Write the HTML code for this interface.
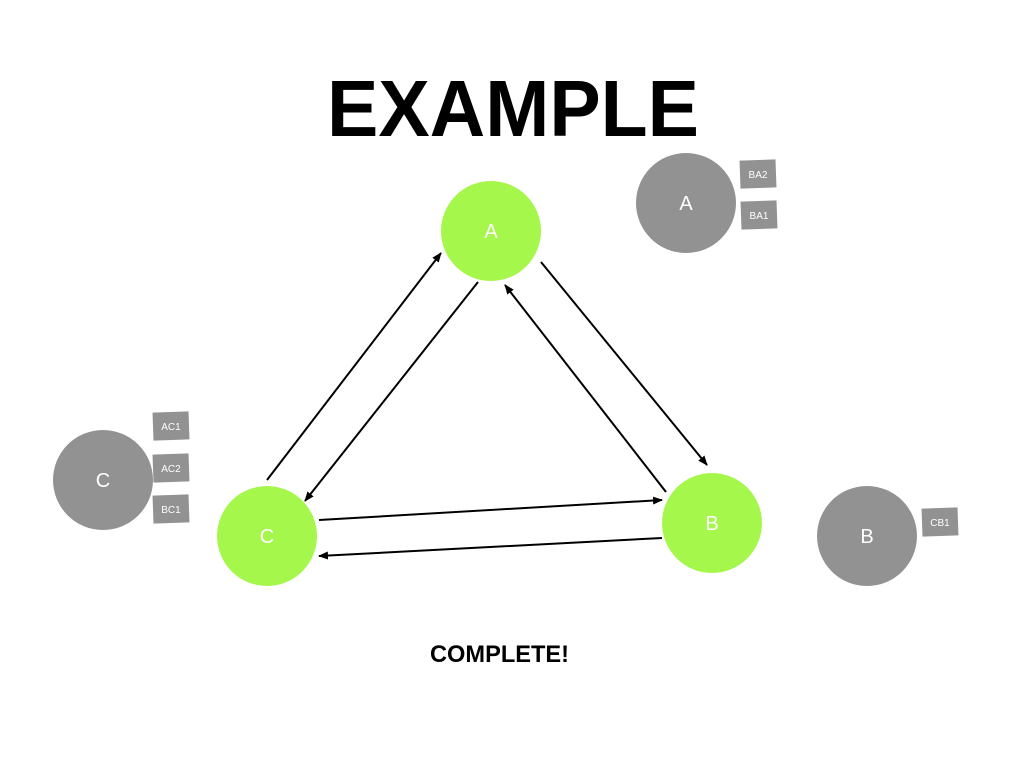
<!DOCTYPE html>
<html><head><meta charset="utf-8"><style>body{margin:0;background:#fff}svg{display:block}</style></head>
<body>
<svg width="1024" height="768" viewBox="0 0 1024 768" xmlns="http://www.w3.org/2000/svg" font-family="Liberation Sans, sans-serif">
<defs><marker id="ar" markerWidth="10" markerHeight="8" refX="9" refY="4" orient="auto" markerUnits="userSpaceOnUse"><path d="M0,0 L10,4 L0,8 z" fill="#000"/></marker></defs>
<text x="327" y="136" font-size="80" font-weight="bold" textLength="372" lengthAdjust="spacingAndGlyphs">EXAMPLE</text>
<text x="430" y="662" font-size="24" font-weight="bold" textLength="139" lengthAdjust="spacingAndGlyphs">COMPLETE!</text>
<g stroke="#000" stroke-width="2" marker-end="url(#ar)">
<line x1="267" y1="480" x2="441" y2="253"/>
<line x1="478" y1="282" x2="305" y2="501"/>
<line x1="541" y1="262" x2="707" y2="465"/>
<line x1="666" y1="492" x2="505" y2="285"/>
<line x1="319" y1="520" x2="662" y2="500"/>
<line x1="662" y1="538" x2="319" y2="556"/>
</g>
<g fill="#a6f74c"><circle cx="491" cy="231" r="50"/><circle cx="712" cy="523" r="50"/><circle cx="267" cy="536" r="50"/></g>
<g fill="#929292"><circle cx="686" cy="203" r="50"/><circle cx="103" cy="480" r="50"/><circle cx="867" cy="536" r="50"/>
<rect x="740" y="160" width="36" height="28" transform="rotate(-2 758 174)"/>
<rect x="741" y="201" width="36" height="28" transform="rotate(-2 759 215)"/>
<rect x="153" y="412" width="36" height="28" transform="rotate(-2 171 426)"/>
<rect x="153" y="454" width="36" height="28" transform="rotate(-2 171 468)"/>
<rect x="153" y="495" width="36" height="28" transform="rotate(-2 171 509)"/>
<rect x="922" y="508" width="36" height="28" transform="rotate(-2 940 522)"/>
</g>
<g fill="#fff" font-size="20" text-anchor="middle">
<text x="491" y="238">A</text><text x="712" y="530">B</text><text x="267" y="543">C</text>
<text x="686" y="210">A</text><text x="103" y="487">C</text><text x="867" y="543">B</text>
</g>
<g fill="#fff" font-size="10" text-anchor="middle">
<text x="758" y="178">BA2</text><text x="759" y="219">BA1</text>
<text x="171" y="430">AC1</text><text x="171" y="472">AC2</text><text x="171" y="513">BC1</text>
<text x="940" y="526">CB1</text>
</g>
</svg>
</body></html>
